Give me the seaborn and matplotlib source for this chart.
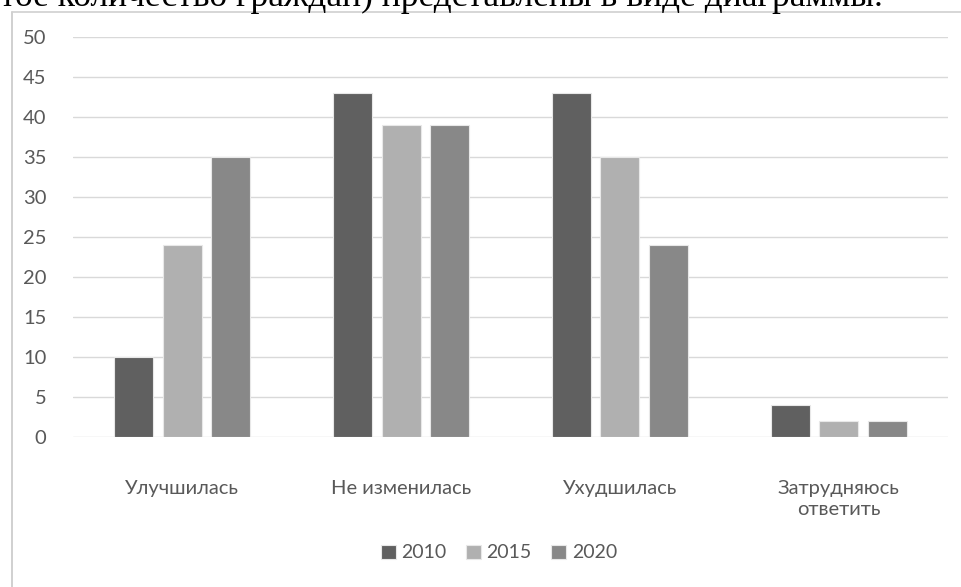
import matplotlib
matplotlib.use("Agg")
import matplotlib.pyplot as plt
import seaborn as sns
import pandas as pd

categories = ["Улучшилась", "Не изменилась", "Ухудшилась", "Затрудняюсь\nответить"]
years = ["2010", "2015", "2020"]
values_2010 = [10, 43, 43, 4]
values_2015 = [24, 39, 35, 2]
values_2020 = [35, 39, 24, 2]
yticks = [0, 5, 10, 15, 20, 25, 30, 35, 40, 45, 50]
colors = ["#606060", "#b0b0b0", "#888888"]

rows = []
for yr, vals in zip(years, [values_2010, values_2015, values_2020]):
    for c, v in zip(categories, vals):
        rows.append({"cat": c, "year": yr, "val": v})
df = pd.DataFrame(rows)

sns.set_theme(style="white")
plt.rcParams["font.family"] = ["Lato", "DejaVu Sans"]

fig = plt.figure(figsize=(9.61, 5.87), dpi=100)
W, H = 961, 587
ax = fig.add_axes([73 / W, 1 - 437 / H, (948 - 73) / W, 400 / H])

sns.barplot(data=df, x="cat", y="val", hue="year", order=categories,
            hue_order=years, palette=colors, width=0.665, gap=0.2,
            edgecolor="#e8e8e8", linewidth=0.8, ax=ax, legend=True, zorder=3)

ax.set_ylim(0, 50)
ax.set_xlim(-0.5, 3.5)
ax.set_yticks(yticks)
ax.set_yticklabels([str(t) for t in yticks], fontsize=14.5, color="#595959")
ax.tick_params(axis="y", length=0, pad=19)
ax.tick_params(axis="x", length=0, pad=31, labelsize=14.5, labelcolor="#595959")
ax.grid(axis="y", color="#d9d9d9", linewidth=1, zorder=0)
ax.set_axisbelow(True)
for s in ax.spines.values():
    s.set_visible(False)
ax.set_xlabel("")
ax.set_ylabel("")
for lab in ax.get_xticklabels():
    lab.set_linespacing(1.3)

handles, labels = ax.get_legend_handles_labels()
ax.legend(handles, labels, loc="center", bbox_to_anchor=(499 / W, 1 - 553 / H),
          bbox_transform=fig.transFigure, ncol=3, frameon=False, fontsize=14,
          handlelength=0.75, handleheight=0.75, handletextpad=0.3, columnspacing=1.0,
          labelcolor="#595959")

# frame of the embedded chart
fig.add_artist(plt.Line2D([12 / W, 12 / W], [0, 1 - 12 / H], transform=fig.transFigure,
                          color="#c8c8c8", linewidth=1.2))
fig.add_artist(plt.Line2D([12 / W, 1], [1 - 12 / H, 1 - 12 / H], transform=fig.transFigure,
                          color="#d0d0d0", linewidth=1.2))

# partially visible document text above the chart (cut off by the page edge)
fig.text(0.0, 1 - 6 / H, "тое количество граждан) представлены в виде диаграммы.",
         fontsize=25.5, family=["Liberation Serif", "DejaVu Serif"], color="black",
         ha="left", va="baseline")

fig.savefig("out.png", dpi=100, facecolor="white")
